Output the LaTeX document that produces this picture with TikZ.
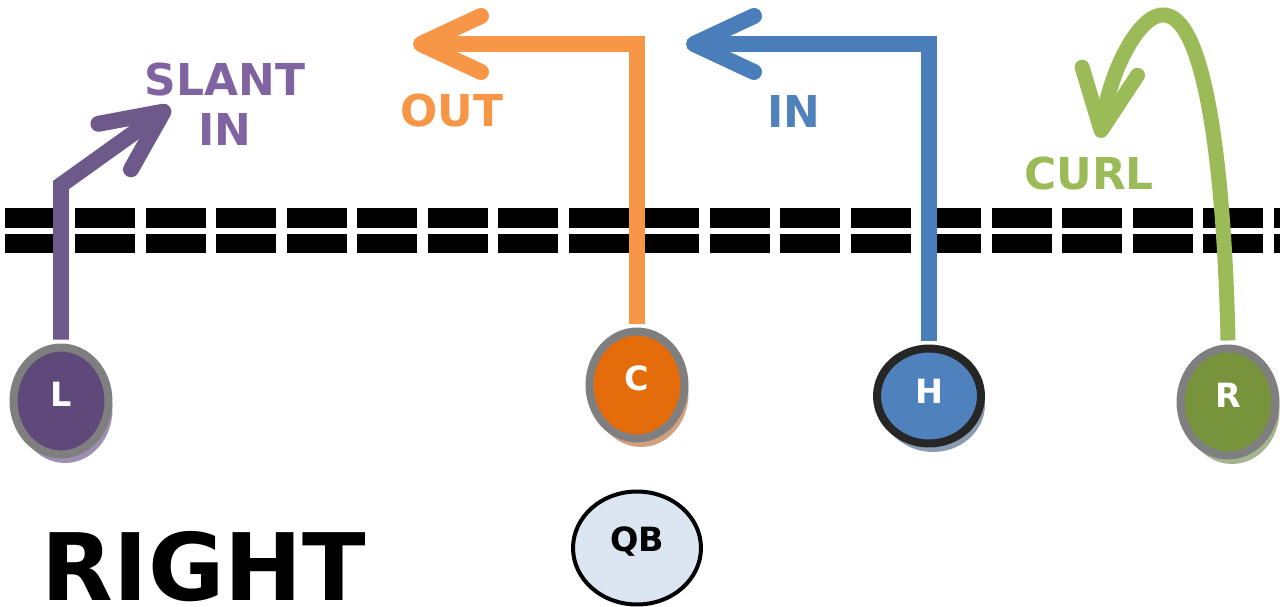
\documentclass[tikz,border=0pt]{standalone}
\usepackage{fontspec}
\setmainfont{DejaVu Sans}
\usetikzlibrary{arrows.meta,shapes.geometric,shadows}

\definecolor{rimgray}{HTML}{7F7F7F}
\definecolor{slantcol}{HTML}{6E5A8A}
\definecolor{slanttext}{HTML}{8064A2}
\definecolor{lfill}{HTML}{5F497A}
\definecolor{lshadow}{HTML}{9D90B3}
\definecolor{outcol}{HTML}{F79646}
\definecolor{cfill}{HTML}{E46C0A}
\definecolor{cshadow}{HTML}{D3A07E}
\definecolor{incol}{HTML}{4A7EBB}
\definecolor{intext}{HTML}{4F81BD}
\definecolor{hrim}{HTML}{262626}
\definecolor{hshadow}{HTML}{8B9BB2}
\definecolor{curlcol}{HTML}{9BBB59}
\definecolor{rfill}{HTML}{77933C}
\definecolor{rshadow}{HTML}{A6B490}
\definecolor{qbfill}{HTML}{DCE6F2}

\begin{document}
\begin{tikzpicture}[x=0.02cm,y=-0.02cm,
  player/.style={shape=ellipse,inner sep=0pt,minimum width=1.9cm,minimum height=2.14cm,
    line width=0.16cm,draw=rimgray,text=white,font=\fontsize{19}{19}\selectfont\bfseries,text depth=0.28cm},
  castshadow/.style={drop shadow={shadow xshift=0.08cm,shadow yshift=-0.17cm,opacity=1,fill=#1}},
  route/.style={line width=0.32cm,-{Straight Barb[length=1.2cm,width=1.12cm,round]}},
  routelabel/.style={font=\fontsize{25}{28.5}\selectfont\bfseries,inner sep=0pt,align=center},
  scrimmage/.style={line width=0.39cm,dash pattern=on 1.2cm off 0.21cm}]
\useasboundingbox (0,0) rectangle (1280,607);

% line of scrimmage
\draw [scrimmage] (5,218) -- (1280,218);
\draw [scrimmage] (5,243.5) -- (1280,243.5);

\path (61,401) node (L) [player,fill=lfill,castshadow=lshadow] {L};
\path (637,385) node (C) [player,fill=cfill,castshadow=cshadow] {C};
\path (929,396) node (H) [player,minimum width=2.08cm,minimum height=1.9cm,draw=hrim,fill=intext,castshadow=hshadow,text depth=0.2cm] {H};
\path (1228,402) node (R) [player,fill=rfill,castshadow=rshadow] {R};
\path (637,548) node (QB) [shape=ellipse,inner sep=0pt,minimum width=2.56cm,minimum height=2.26cm,
  line width=0.08cm,draw=black,fill=qbfill,font=\fontsize{19}{19}\selectfont\bfseries,text depth=0.36cm] {QB};

\coordinate (slantbend) at (61,185);
\coordinate (slanttip) at (170,107);
\coordinate (outtip) at (413,44);
\coordinate (intip) at (686,44);
\coordinate (curltop) at (1165,15);
\coordinate (curltip) at (1100,138);

\draw [route,draw=slantcol] ([yshift=0.08cm]L.north) -- (slantbend) -- (slanttip);
\draw [route,draw=outcol] ([yshift=0.08cm]C.north) |- (outtip);
\draw [route,draw=incol] ([yshift=0.08cm]H.north) |- (intip);
\draw [route,line width=0.3cm,draw=curlcol] ([yshift=0.08cm]R.north) .. controls (1225,200) and (1210,20) .. (curltop)
  .. controls (1140,12) and (1110,70) .. (curltip);

\path (225,104) node (slantlabel) [routelabel,text=slanttext] {SLANT\\IN};
\path (452,111) node (outlabel) [routelabel,text=outcol] {OUT};
\path (794,111) node (inlabel) [routelabel,text=intext] {IN};
\path (1089,174) node (curllabel) [routelabel,text=curlcol] {CURL};
\path (204,567) node (formation) [font=\fontsize{53}{53}\selectfont\bfseries,inner sep=0pt] {RIGHT};
\end{tikzpicture}
\end{document}
